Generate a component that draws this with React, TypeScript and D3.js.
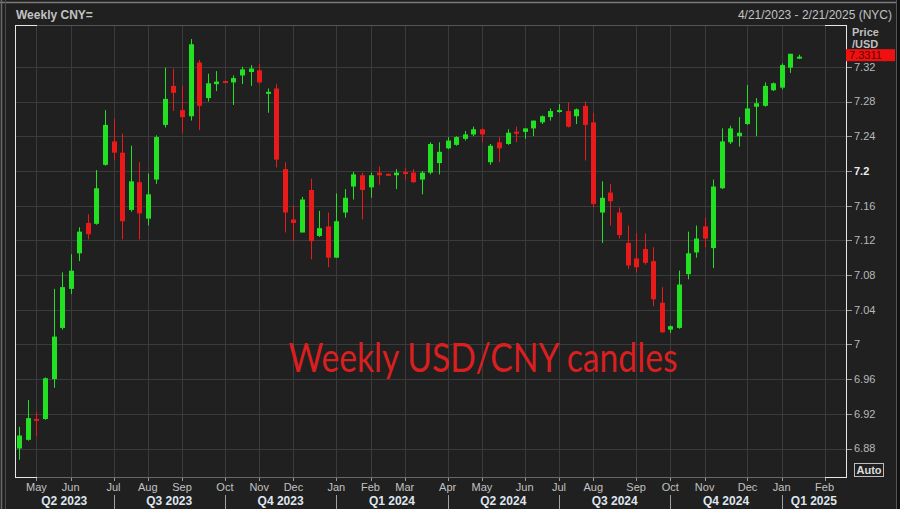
import React from "react";
import * as d3 from "d3";

// ---- data ----
const startDate = new Date(2023, 3, 21);
const endDate = new Date(2025, 1, 21);

const openVals = [
  6.880, 6.890, 6.914, 6.914, 6.960, 7.019, 7.064, 7.105, 7.140, 7.139,
  7.207, 7.234, 7.221, 7.155, 7.187, 7.145, 7.190, 7.253, 7.298, 7.270,
  7.263, 7.325, 7.284, 7.300, 7.303, 7.302, 7.310, 7.314, 7.316, 7.289,
  7.295, 7.202, 7.144, 7.129, 7.178, 7.125, 7.136, 7.100, 7.152, 7.182,
  7.195, 7.181, 7.198, 7.196, 7.195, 7.198, 7.198, 7.190, 7.198, 7.209,
  7.226, 7.230, 7.237, 7.242, 7.248, 7.210, 7.233, 7.231, 7.245, 7.245,
  7.249, 7.256, 7.262, 7.268, 7.269, 7.263, 7.275, 7.256, 7.152, 7.175,
  7.152, 7.117, 7.099, 7.110, 7.096, 7.048, 7.017, 7.019, 7.081, 7.106,
  7.136, 7.111, 7.180, 7.233, 7.240, 7.254, 7.274, 7.275, 7.293, 7.296,
  7.319, 7.330,
];
const highVals = [
  6.905, 6.936, 6.922, 6.962, 7.064, 7.083, 7.104, 7.135, 7.150, 7.201,
  7.270, 7.260, 7.243, 7.229, 7.210, 7.197, 7.241, 7.319, 7.318, 7.298,
  7.352, 7.328, 7.312, 7.315, 7.304, 7.310, 7.320, 7.322, 7.323, 7.295,
  7.300, 7.210, 7.160, 7.170, 7.191, 7.154, 7.152, 7.174, 7.179, 7.199,
  7.198, 7.198, 7.205, 7.197, 7.202, 7.203, 7.202, 7.200, 7.233, 7.233,
  7.239, 7.240, 7.246, 7.251, 7.249, 7.231, 7.239, 7.248, 7.251, 7.249,
  7.258, 7.264, 7.272, 7.277, 7.279, 7.272, 7.280, 7.267, 7.188, 7.185,
  7.158, 7.137, 7.128, 7.128, 7.112, 7.066, 7.022, 7.085, 7.130, 7.137,
  7.146, 7.190, 7.249, 7.252, 7.262, 7.299, 7.284, 7.302, 7.302, 7.324,
  7.335, 7.334,
];
const lowVals = [
  6.867, 6.889, 6.894, 6.913, 6.950, 7.017, 7.058, 7.096, 7.121, 7.138,
  7.206, 7.212, 7.121, 7.153, 7.121, 7.137, 7.185, 7.250, 7.269, 7.244,
  7.258, 7.247, 7.280, 7.292, 7.301, 7.276, 7.300, 7.298, 7.300, 7.267,
  7.204, 7.129, 7.119, 7.129, 7.098, 7.124, 7.089, 7.100, 7.146, 7.167,
  7.144, 7.169, 7.184, 7.194, 7.179, 7.190, 7.186, 7.173, 7.196, 7.196,
  7.225, 7.229, 7.235, 7.240, 7.233, 7.207, 7.210, 7.230, 7.233, 7.237,
  7.240, 7.254, 7.258, 7.267, 7.250, 7.254, 7.212, 7.158, 7.117, 7.137,
  7.122, 7.087, 7.083, 7.092, 7.044, 7.013, 7.013, 7.018, 7.075, 7.100,
  7.112, 7.088, 7.179, 7.231, 7.228, 7.253, 7.240, 7.274, 7.292, 7.294,
  7.313, 7.329,
];
const closeVals = [
  6.895, 6.915, 6.912, 6.961, 7.009, 7.066, 7.085, 7.130, 7.127, 7.180,
  7.253, 7.221, 7.142, 7.188, 7.151, 7.173, 7.239, 7.283, 7.290, 7.262,
  7.346, 7.275, 7.301, 7.303, 7.302, 7.307, 7.317, 7.318, 7.302, 7.291,
  7.213, 7.152, 7.140, 7.167, 7.119, 7.134, 7.100, 7.142, 7.169, 7.196,
  7.178, 7.195, 7.195, 7.195, 7.198, 7.197, 7.187, 7.198, 7.231, 7.222,
  7.235, 7.239, 7.242, 7.248, 7.242, 7.229, 7.226, 7.244, 7.243, 7.249,
  7.258, 7.263, 7.269, 7.270, 7.251, 7.271, 7.253, 7.162, 7.169, 7.165,
  7.126, 7.091, 7.089, 7.094, 7.052, 7.014, 7.021, 7.069, 7.105, 7.122,
  7.122, 7.182, 7.234, 7.249, 7.244, 7.272, 7.278, 7.298, 7.301, 7.322,
  7.335, 7.3311,
];

const yTicks = [6.88, 6.92, 6.96, 7.0, 7.04, 7.08, 7.12, 7.16, 7.2, 7.24, 7.28, 7.32];
const yTickLabels = ["6.88", "6.92", "6.96", "7", "7.04", "7.08", "7.12", "7.16", "7.2", "7.24", "7.28", "7.32"];
const lastPrice = 7.3311;
const lastPriceLabel = "7.3311";
const titleText = "Weekly CNY=";
const rangeText = "4/21/2023 - 2/21/2025 (NYC)";
const annotationText = "Weekly USD/CNY candles";

const GREEN = "#22e022";
const RED = "#e81a1a";
const GRID = "#3b3b3b";
const TXT = "#c2c2c2";
const FONT = "'Liberation Sans', Arial, sans-serif";

export default function App() {
  const W = 900;
  const H = 509;
  const plot = { left: 15, right: 846, top: 25, bottom: 477 };

  const weeks = d3.timeFriday.range(startDate, d3.timeDay.offset(endDate, 1));
  const x = d3
    .scaleBand<Date>()
    .domain(weeks)
    .range([plot.left, plot.right])
    .padding(0);
  const cx = (d: Date) => (x(d) as number) + x.bandwidth() / 2;
  const y = d3.scaleLinear().domain([6.88, 7.32]).range([448.5, 66.8]);

  // month ticks
  const monthTicks: { d: Date; x: number; label: string }[] = [];
  weeks.forEach((d, i) => {
    if (i > 0 && d.getMonth() !== weeks[i - 1].getMonth()) {
      monthTicks.push({ d, x: cx(d), label: d3.timeFormat("%b")(d) });
    }
  });
  const quarterSeps = monthTicks.filter((t) => t.d.getMonth() % 3 === 0);
  const bounds = [plot.left, ...quarterSeps.map((t) => t.x), plot.right];
  const segStarts = [weeks[0], ...quarterSeps.map((t) => t.d)];
  const quarters = segStarts.map((d, i) => ({
    label: `Q${Math.floor(d.getMonth() / 3) + 1} ${d.getFullYear()}`,
    x: (bounds[i] + bounds[i + 1]) / 2,
  }));

  const candles = closeVals.map((c, i) => ({
    d: weeks[i],
    o: openVals[i],
    h: highVals[i],
    l: lowVals[i],
    c,
  }));

  const bodyW = 5;
  const lastY = y(lastPrice);

  return (
    <svg
      width={W}
      height={H}
      style={{ position: "fixed", left: 0, top: 0, display: "block" }}
      fontFamily={FONT}
    >
      <rect x={0} y={0} width={W} height={H} fill="#202020" />
      {/* window chrome */}
      <line x1={0} y1={2.5} x2={W} y2={2.5} stroke="#7a7a7a" strokeWidth={1.5} />
      <line x1={1.5} y1={0} x2={1.5} y2={H} stroke="#6a6a6a" strokeWidth={1.5} />
      <line x1={5.5} y1={0} x2={5.5} y2={H} stroke="#4a4a4a" strokeWidth={1} />
      <line x1={896.5} y1={0} x2={896.5} y2={H} stroke="#555" strokeWidth={1} />
      <rect x={897} y={0} width={3} height={H} fill="#111" />

      {/* title */}
      <text x={16} y={19} fontSize={12} fontWeight="bold" fill={TXT}>
        {titleText}
      </text>
      <text x={892} y={19} fontSize={12} fill={TXT} textAnchor="end">
        {rangeText}
      </text>

      {/* grid */}
      {yTicks.map((t) => (
        <line
          key={"h" + t}
          x1={plot.left}
          x2={plot.right}
          y1={Math.round(y(t)) + 0.5}
          y2={Math.round(y(t)) + 0.5}
          stroke={GRID}
        />
      ))}
      {monthTicks.map((t) => (
        <line
          key={"v" + t.x}
          x1={Math.round(t.x) + 0.5}
          x2={Math.round(t.x) + 0.5}
          y1={plot.top}
          y2={plot.bottom}
          stroke={GRID}
        />
      ))}

      {/* plot frame */}
      <line x1={plot.left} x2={plot.right} y1={plot.top + 0.5} y2={plot.top + 0.5} stroke="#555" />
      <line x1={plot.left} x2={plot.right} y1={plot.bottom + 0.5} y2={plot.bottom + 0.5} stroke="#666" />
      <line x1={plot.left + 0.5} x2={plot.left + 0.5} y1={plot.top} y2={plot.bottom + 1} stroke="#e6e6e6" />
      <line x1={plot.right + 0.5} x2={plot.right + 0.5} y1={plot.top} y2={plot.bottom + 1} stroke="#e6e6e6" />
      <line x1={plot.left} x2={plot.left + 22} y1={plot.top + 0.5} y2={plot.top + 0.5} stroke="#e6e6e6" />
      <line x1={plot.left} x2={plot.left + 22} y1={plot.bottom + 0.5} y2={plot.bottom + 0.5} stroke="#e6e6e6" />
      <line x1={plot.right - 21} x2={plot.right + 1} y1={plot.top + 0.5} y2={plot.top + 0.5} stroke="#e6e6e6" />
      <line x1={plot.right - 21} x2={plot.right + 1} y1={plot.bottom + 0.5} y2={plot.bottom + 0.5} stroke="#e6e6e6" />

      {/* candles */}
      {candles.map((k, i) => {
        const xc = Math.round(cx(k.d));
        const up = k.c >= k.o;
        const col = up ? GREEN : RED;
        const yTop = y(Math.max(k.o, k.c));
        const yBot = y(Math.min(k.o, k.c));
        const hgt = Math.max(2, yBot - yTop);
        return (
          <g key={i}>
            <line x1={xc + 0.5} x2={xc + 0.5} y1={y(k.h)} y2={y(k.l)} stroke={col} strokeWidth={1} />
            <rect x={xc + 0.5 - bodyW / 2} y={(yTop + yBot) / 2 - hgt / 2} width={bodyW} height={hgt} fill={col} />
          </g>
        );
      })}

      {/* annotation */}
      <text
        x={483}
        y={372}
        fontSize={40}
        fill="#d91f1f"
        textAnchor="middle"
        fontFamily="Lato, 'Open Sans', sans-serif"
        textLength={389}
        lengthAdjust="spacingAndGlyphs"
      >
        {annotationText}
      </text>

      {/* right axis */}
      {yTicks.map((t, i) => (
        <g key={"yt" + t}>
          <line x1={plot.right + 1} x2={plot.right + 6} y1={Math.round(y(t)) + 0.5} y2={Math.round(y(t)) + 0.5} stroke="#9a9a9a" />
          <text
            x={854}
            y={y(t)}
            dy="0.36em"
            fontSize={11}
            fill={t === 7.2 ? "#ececec" : "#b8b8b8"}
            fontWeight={t === 7.2 ? "bold" : "normal"}
          >
            {yTickLabels[i]}
          </text>
        </g>
      ))}
      <text x={852} y={36} fontSize={11} fontWeight="bold" fill="#bfbfbf">Price</text>
      <text x={852} y={48} fontSize={11} fontWeight="bold" fill="#bfbfbf">/USD</text>
      <rect x={plot.right} y={lastY - 8} width={49} height={12} fill="#f01010" />
      <text x={849} y={lastY - 2} dy="0.36em" fontSize={11} fill="#5a0000">
        {lastPriceLabel}
      </text>
      <rect x={854.5} y={463.5} width={29} height={13} fill="none" stroke="#bdbdbd" />
      <text x={869} y={474} fontSize={11} fontWeight="bold" fill="#dcdcdc" textAnchor="middle">
        Auto
      </text>

      {/* bottom axis */}
      {monthTicks.map((t) => (
        <g key={"mt" + t.x}>
          <line x1={Math.round(t.x) + 0.5} x2={Math.round(t.x) + 0.5} y1={plot.bottom + 1} y2={plot.bottom + 4} stroke="#9a9a9a" />
          <text x={t.x} y={491} fontSize={11} fill={TXT} textAnchor="middle">
            {t.label}
          </text>
        </g>
      ))}
      {quarterSeps.map((t) => (
        <line key={"qs" + t.x} x1={Math.round(t.x) + 0.5} x2={Math.round(t.x) + 0.5} y1={495} y2={509} stroke="#a0a0a0" />
      ))}
      {quarters.map((q) => (
        <text key={q.label} x={q.x} y={505} fontSize={12} fontWeight="bold" fill="#dfe6ef" textAnchor="middle">
          {q.label}
        </text>
      ))}
    </svg>
  );
}
